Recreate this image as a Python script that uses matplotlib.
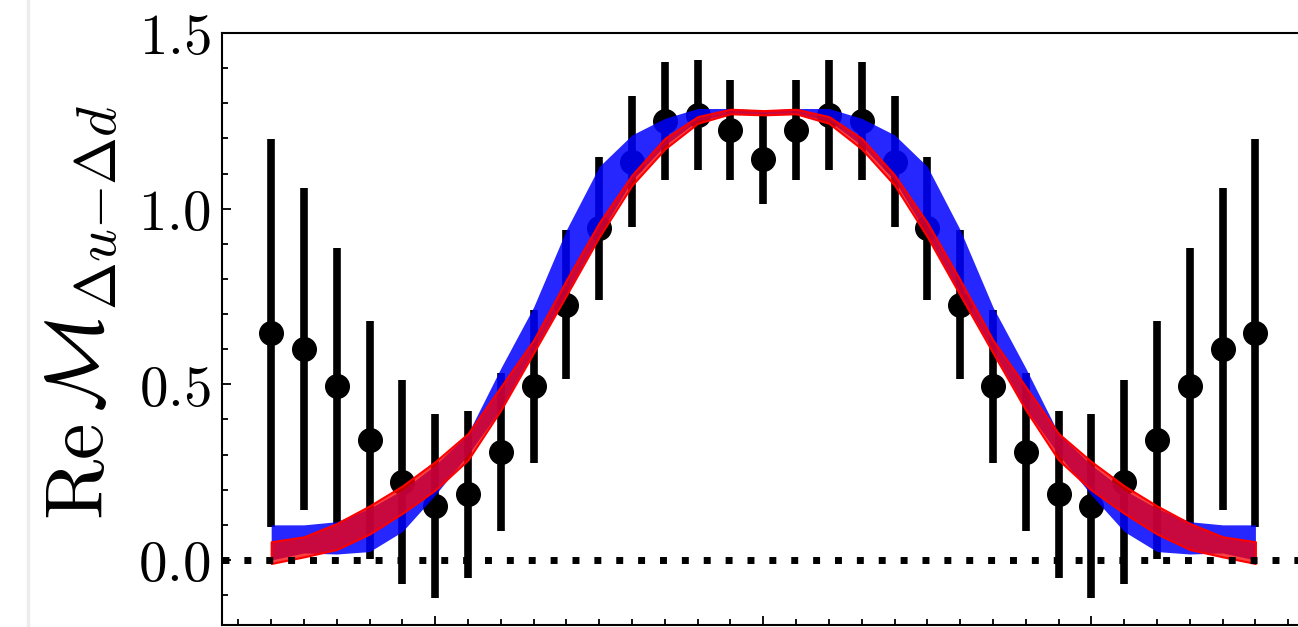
import matplotlib
matplotlib.use("Agg")
import matplotlib.pyplot as plt
from matplotlib.lines import Line2D
from matplotlib.ticker import FuncFormatter, MultipleLocator
import numpy as np

plt.rcParams["mathtext.fontset"] = "cm"

# separation z (lattice units)
z = list(range(-15, 16))

# lattice data points with errors
re_m = [0.646, 0.600, 0.495, 0.342, 0.222, 0.154, 0.187, 0.308, 0.494, 0.727, 0.944,
        1.134, 1.250, 1.267, 1.224, 1.142, 1.224, 1.267, 1.250, 1.134, 0.944, 0.727,
        0.494, 0.308, 0.187, 0.154, 0.222, 0.342, 0.495, 0.600, 0.646]
re_err = [0.553, 0.459, 0.392, 0.338, 0.290, 0.262, 0.237, 0.225, 0.218, 0.213, 0.204,
          0.187, 0.168, 0.157, 0.143, 0.129, 0.143, 0.157, 0.168, 0.187, 0.204, 0.213,
          0.218, 0.225, 0.237, 0.262, 0.290, 0.338, 0.392, 0.459, 0.553]

# reconstruction bands (blue: first fit, red: second fit)
blue_lo = [0.000, 0.020, 0.017, 0.024, 0.081, 0.185, 0.300, 0.430, 0.595, 0.755, 0.925,
           1.080, 1.180, 1.250, 1.270, 1.265, 1.270, 1.250, 1.180, 1.080, 0.925, 0.755,
           0.595, 0.430, 0.300, 0.185, 0.081, 0.024, 0.017, 0.020, 0.000]
blue_hi = [0.100, 0.100, 0.109, 0.147, 0.199, 0.270, 0.360, 0.546, 0.720, 0.940, 1.120,
           1.210, 1.257, 1.285, 1.285, 1.280, 1.285, 1.285, 1.257, 1.210, 1.120, 0.940,
           0.720, 0.546, 0.360, 0.270, 0.199, 0.147, 0.109, 0.100, 0.100]
red_lo = [-0.010, 0.009, 0.030, 0.074, 0.133, 0.199, 0.285, 0.427, 0.590, 0.754, 0.920,
          1.067, 1.170, 1.243, 1.270, 1.267, 1.270, 1.243, 1.170, 1.067, 0.920, 0.754,
          0.590, 0.427, 0.285, 0.199, 0.133, 0.074, 0.030, 0.009, -0.010]
red_hi = [0.052, 0.066, 0.104, 0.154, 0.211, 0.280, 0.360, 0.493, 0.626, 0.797, 0.960,
          1.096, 1.200, 1.262, 1.283, 1.279, 1.283, 1.262, 1.200, 1.096, 0.960, 0.797,
          0.626, 0.493, 0.360, 0.280, 0.211, 0.154, 0.104, 0.066, 0.052]

fig = plt.figure(figsize=(12.98, 6.27), dpi=100)
ax = fig.add_axes([0.1710, 0.0032, 0.8341, 0.9442])

ax.errorbar(z, re_m, yerr=re_err, fmt="o", color="black", ms=17, elinewidth=5.5,
            capsize=0, zorder=2)
ax.fill_between(z, blue_lo, blue_hi, color="blue", alpha=0.85, lw=0, zorder=3)
ax.fill_between(z, red_lo, red_hi, facecolor=(1, 0, 0, 0.75), edgecolor="red",
                lw=1.5, zorder=4)
ax.axhline(0.0, color="black", lw=5, ls=(0, (1, 2.15)), dash_capstyle="butt", zorder=5)

ax.set_xlim(-16.5, 16.5)
ax.set_ylim(-0.185, 1.5)

ax.xaxis.set_major_locator(MultipleLocator(10))
ax.xaxis.set_minor_locator(MultipleLocator(1))
ax.yaxis.set_major_locator(MultipleLocator(0.5))
ax.yaxis.set_minor_locator(MultipleLocator(0.1))
ax.yaxis.set_major_formatter(FuncFormatter(lambda v, p: f"${v:.1f}$"))
ax.tick_params(which="both", direction="in", top=False, right=False, width=1.3,
               labelbottom=False)
ax.tick_params(which="major", length=6.5, labelsize=41, pad=8)
ax.tick_params(which="minor", length=4)
for s in ax.spines.values():
    s.set_linewidth(1.5)

fig.text(81.5 / 1298, 1 - 312.5 / 627, r"$\mathrm{Re}\,\mathcal{M}_{\Delta u{-}\Delta d}$",
         fontsize=59, rotation=90, ha="center", va="center")

# thin page edge on the left
fig.add_artist(Line2D([0.0215, 0.0215], [0, 1], color="#ececec", lw=2.5))

fig.savefig("out.png", dpi=100)
